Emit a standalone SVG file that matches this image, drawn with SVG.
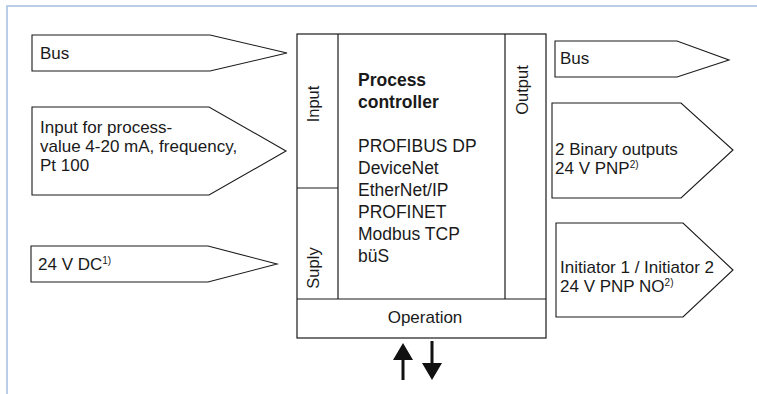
<svg xmlns="http://www.w3.org/2000/svg" width="757" height="394" viewBox="0 0 757 394">
<style>
  .frame { fill: none; stroke: #a4bfe0; stroke-width: 1.5; }
  .box { fill: #ffffff; stroke: #1a1a1a; stroke-width: 1.2; }
  .line { fill: none; stroke: #1a1a1a; stroke-width: 1.2; }
  .arrowshape { fill: #ffffff; stroke: #1a1a1a; stroke-width: 1.1; }
  text { font-family: "Liberation Sans", Arial, sans-serif; fill: #1a1a1a; }
  .t { font-size: 17px; }
  .main { font-size: 17.5px; }
  .bold { font-weight: bold; }
  .vert { font-size: 16.5px; text-anchor: middle; }
  .sup { font-size: 10px; }
  .io { fill: #111111; stroke: none; }
</style>
<rect x="0" y="0" width="757" height="394" fill="#ffffff"/>
<path class="frame" d="M7,394 L7,6 L757,6"/>

<g id="controller">
  <rect class="box" x="297" y="34" width="249" height="304"/>
  <line class="line" x1="338" y1="34" x2="338" y2="299"/>
  <line class="line" x1="505" y1="34" x2="505" y2="299"/>
  <line class="line" x1="297" y1="188" x2="338" y2="188"/>
  <line class="line" x1="297" y1="299" x2="546" y2="299"/>
  <text class="main bold" x="358" y="86">Process</text>
  <text class="main bold" x="358" y="108">controller</text>
  <text class="main" x="358" y="152">PROFIBUS DP</text>
  <text class="main" x="358" y="174">DeviceNet</text>
  <text class="main" x="358" y="196">EtherNet/IP</text>
  <text class="main" x="358" y="218">PROFINET</text>
  <text class="main" x="358" y="240">Modbus TCP</text>
  <text class="main" x="358" y="262">büS</text>
</g>
<g id="input-label">
  <text class="vert" font-family="Liberation Sans, Arial, sans-serif" transform="translate(319,104) rotate(-90)">Input</text>
</g>
<g id="supply-label">
  <text class="vert" font-family="Liberation Sans, Arial, sans-serif" transform="translate(319,268) rotate(-90)">Suply</text>
</g>
<g id="output-label">
  <text class="vert" font-family="Liberation Sans, Arial, sans-serif" transform="translate(528,90) rotate(-90)">Output</text>
</g>
<g id="operation">
  <text class="t" x="425" y="323" text-anchor="middle">Operation</text>
</g>

<g id="bus-in">
  <polygon class="arrowshape" points="32,35 210,35 287,53 210,71 32,71"/>
  <text class="t" x="40" y="59">Bus</text>
</g>
<g id="process-value-in">
  <polygon class="arrowshape" points="32,107 209,107 286,151 209,195 32,195"/>
  <text class="t" x="40" y="133">Input for process-</text>
  <text class="t" x="40" y="152">value 4-20 mA, frequency,</text>
  <text class="t" x="40" y="171">Pt 100</text>
</g>
<g id="supply-in">
  <polygon class="arrowshape" points="31,246 208,246 277,264 208,282 31,282"/>
  <text class="t" x="38" y="270">24 V DC<tspan class="sup" dy="-6">1)</tspan></text>
</g>
<g id="bus-out">
  <polygon class="arrowshape" points="555,41 677,41 729,60 677,77 555,77"/>
  <text class="t" x="560" y="64">Bus</text>
</g>
<g id="binary-out">
  <polygon class="arrowshape" points="552,103 681,103 733,150 681,198 552,198"/>
  <text class="t" x="555" y="155">2 Binary outputs</text>
  <text class="t" x="555" y="174">24 V PNP<tspan class="sup" dy="-6">2)</tspan></text>
</g>
<g id="initiator-out">
  <polygon class="arrowshape" points="556,223 683,223 733,270 683,317 556,317"/>
  <text class="t" x="560" y="273">Initiator 1 / Initiator 2</text>
  <text class="t" x="560" y="292">24 V PNP NO<tspan class="sup" dy="-6">2)</tspan></text>
</g>

<g id="connectors">
  <polygon class="io" points="403,343 413,360 404.5,360 404.5,380 401.5,380 401.5,360 393,360"/>
  <polygon class="io" points="430.5,341 433.5,341 433.5,363 442,363 432,380 422,363 430.5,363"/>
</g>
</svg>
